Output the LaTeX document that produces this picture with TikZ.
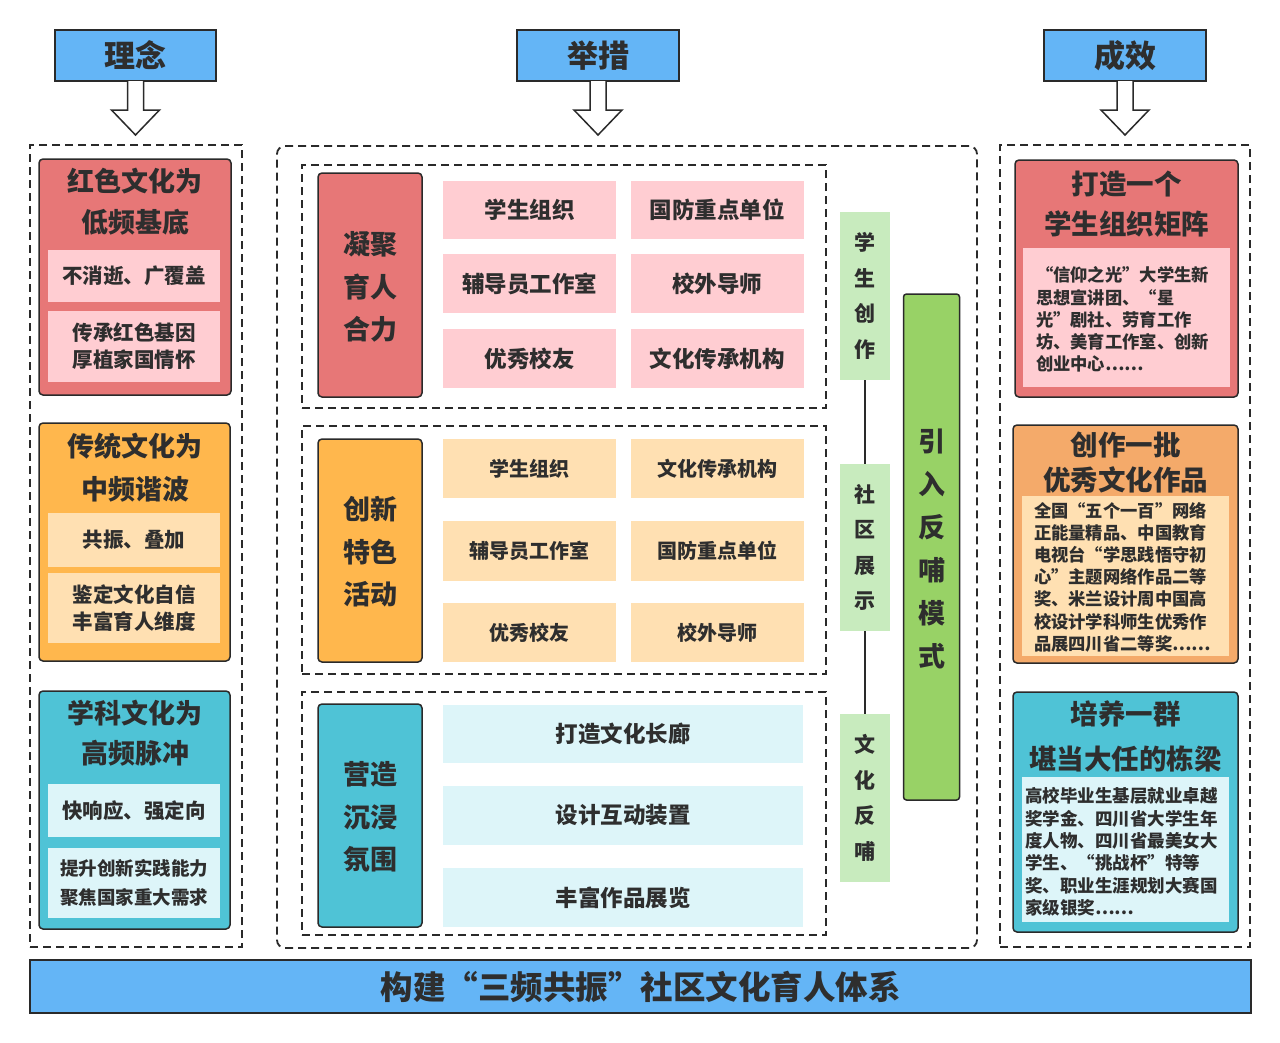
\documentclass[tikz,border=0pt]{standalone}
\usepackage{fontspec}
\setmainfont{Noto Sans CJK SC}
\usetikzlibrary{calc}
\definecolor{hblue}{HTML}{64B5F6}
\definecolor{bord}{HTML}{2A2A2A}
\definecolor{txt}{HTML}{2E2E2E}
\definecolor{redc}{HTML}{E77777}
\definecolor{pinkc}{HTML}{FFCDD2}
\definecolor{orc}{HTML}{FFB74D}
\definecolor{orr}{HTML}{F4AA6A}
\definecolor{peach}{HTML}{FFE0B2}
\definecolor{tealc}{HTML}{4FC3D6}
\definecolor{cyanl}{HTML}{DDF5F9}
\definecolor{lgreen}{HTML}{C8EBBE}
\definecolor{dgreen}{HTML}{98D266}
\tikzset{
  base/.style={inner sep=0pt, outer sep=0pt, text=txt},
  hdr/.style={base, draw=bord, line width=1.5pt, fill=hblue, font=\bfseries\fontsize{31}{36}\selectfont},
  colbox/.style={base, draw=bord, line width=1.5pt, rounded corners=4pt},
  flat/.style={base, draw=none, align=center},
  dashbox/.style={base, draw=bord, line width=1.8pt, dash pattern=on 8pt off 5pt},
  ttl/.style={base, align=center, font=\bfseries\fontsize{27}{41}\selectfont},
  subt/.style={flat, font=\bfseries\fontsize{20.5}{27}\selectfont},
  cellA/.style={flat, fill=pinkc, font=\bfseries\fontsize{22.5}{27}\selectfont},
  cellB/.style={flat, fill=peach, font=\bfseries\fontsize{20}{27}\selectfont},
  cellC/.style={flat, fill=cyanl, font=\bfseries\fontsize{22.5}{27}\selectfont},
  lbl/.style={base, align=center, font=\bfseries\fontsize{27}{42.5}\selectfont},
  vtxt/.style={flat, fill=lgreen, font=\bfseries\fontsize{21}{35.5}\selectfont},
  body/.style={base, align=left, anchor=west, font=\bfseries\fontsize{17.3}{22.2}\selectfont},
  harrow/.style={draw=bord, fill=white, line width=1.5pt, line join=miter},
  conn/.style={draw=bord, line width=1.3pt}
}
\begin{document}
\begin{tikzpicture}[x=1pt,y=-1pt]
\useasboundingbox[fill=white] (0,0) rectangle (1280,1042);

% headers
\node[hdr, minimum width=161pt, minimum height=51pt] (h1) at (135.5,55.5) {理念};
\node[hdr, minimum width=162pt, minimum height=51pt] (h2) at (598,55.5) {举措};
\node[hdr, minimum width=162pt, minimum height=51pt] (h3) at (1125,55.5) {成效};
\foreach \h in {h1,h2,h3}{
  \draw[harrow] ($(\h.south)+(-8,0)$) -- ($(\h.south)+(-8,29)$) -- ($(\h.south)+(-24,29)$)
    -- ($(\h.south)+(0,54)$) -- ($(\h.south)+(24,29)$) -- ($(\h.south)+(8,29)$) -- ($(\h.south)+(8,0)$);
}

% containers
\node[dashbox, minimum width=212pt, minimum height=802pt] (cL) at (136,546) {};
\node[dashbox, rounded corners=8pt, minimum width=700pt, minimum height=802pt] (cM) at (627,547) {};
\node[dashbox, minimum width=250pt, minimum height=802pt] (cR) at (1125,546) {};

% left column
\node[colbox, fill=redc, minimum width=192pt, minimum height=236pt] (L1) at (135,277) {};
\node[ttl] (L1t) at (135,202) {红色文化为\\低频基底};
\node[subt, fill=pinkc, minimum width=172pt, minimum height=52pt] (L1a) at (134,276) {不消逝、广覆盖};
\node[subt, fill=pinkc, minimum width=172pt, minimum height=71pt] (L1b) at (134,346.5) {传承红色基因\\厚植家国情怀};

\node[colbox, fill=orc, minimum width=191pt, minimum height=238pt] (L2) at (134.5,542) {};
\node[ttl, font=\bfseries\fontsize{27}{43}\selectfont] (L2t) at (135,468) {传统文化为\\中频谐波};
\node[subt, fill=peach, minimum width=172pt, minimum height=54pt] (L2a) at (134,540) {共振、叠加};
\node[subt, fill=peach, minimum width=172pt, minimum height=70pt] (L2b) at (134,608) {鉴定文化自信\\丰富育人维度};

\node[colbox, fill=tealc, minimum width=191pt, minimum height=238pt] (L3) at (134.5,810) {};
\node[ttl, font=\bfseries\fontsize{27}{40}\selectfont] (L3t) at (135,733.5) {学科文化为\\高频脉冲};
\node[subt, fill=cyanl, minimum width=172pt, minimum height=53pt] (L3a) at (134,810.5) {快响应、强定向};
\node[subt, fill=cyanl, minimum width=172pt, minimum height=70pt, font=\bfseries\fontsize{18.5}{29}\selectfont] (L3b) at (134,883) {提升创新实践能力\\聚焦国家重大需求};

% middle group 1
\node[dashbox, minimum width=524pt, minimum height=243pt] (G1) at (564,286.5) {};
\node[colbox, fill=redc, minimum width=104pt, minimum height=224pt] (G1l) at (370,285) {};
\node[lbl] (G1t) at (370,287) {凝聚\\育人\\合力};
\node[cellA, minimum width=173pt, minimum height=58pt] (a11) at (529.5,210) {学生组织};
\node[cellA, minimum width=173pt, minimum height=58pt] (a12) at (717,210) {国防重点单位};
\node[cellA, minimum width=173pt, minimum height=59pt] (a21) at (529.5,283.5) {辅导员工作室};
\node[cellA, minimum width=173pt, minimum height=59pt] (a22) at (717,283.5) {校外导师};
\node[cellA, minimum width=173pt, minimum height=59pt] (a31) at (529.5,358.5) {优秀校友};
\node[cellA, minimum width=173pt, minimum height=59pt] (a32) at (717,358.5) {文化传承机构};

% middle group 2
\node[dashbox, minimum width=524pt, minimum height=248pt] (G2) at (564,550) {};
\node[colbox, fill=orc, minimum width=104pt, minimum height=223pt] (G2l) at (370,550.5) {};
\node[lbl] (G2t) at (370,552) {创新\\特色\\活动};
\node[cellB, minimum width=173pt, minimum height=59pt] (b11) at (529.5,468.5) {学生组织};
\node[cellB, minimum width=173pt, minimum height=59pt] (b12) at (717,468.5) {文化传承机构};
\node[cellB, minimum width=173pt, minimum height=60pt] (b21) at (529.5,551) {辅导员工作室};
\node[cellB, minimum width=173pt, minimum height=60pt] (b22) at (717,551) {国防重点单位};
\node[cellB, minimum width=173pt, minimum height=59pt] (b31) at (529.5,632.5) {优秀校友};
\node[cellB, minimum width=173pt, minimum height=59pt] (b32) at (717,632.5) {校外导师};

% middle group 3
\node[dashbox, minimum width=524pt, minimum height=243pt] (G3) at (564,813.5) {};
\node[colbox, fill=tealc, minimum width=104pt, minimum height=223pt] (G3l) at (370,815.5) {};
\node[lbl] (G3t) at (370,817) {营造\\沉浸\\氛围};
\node[cellC, minimum width=360pt, minimum height=58pt] (c1) at (623,734) {打造文化长廊};
\node[cellC, minimum width=360pt, minimum height=59pt] (c2) at (623,815.5) {设计互动装置};
\node[cellC, minimum width=360pt, minimum height=59pt] (c3) at (623,897.5) {丰富作品展览};

% green vertical boxes
\node[vtxt, minimum width=50pt, minimum height=168pt] (s1) at (865,296) {学\\生\\创\\作};
\node[vtxt, minimum width=50pt, minimum height=167pt] (s2) at (865,547.5) {社\\区\\展\\示};
\node[vtxt, minimum width=50pt, minimum height=168pt] (s3) at (865,798) {文\\化\\反\\哺};
\draw[conn] (s1.south) -- (s2.north);
\draw[conn] (s2.south) -- (s3.north);
\node[colbox, fill=dgreen, rounded corners=3pt, minimum width=56pt, minimum height=506pt] (big) at (931.5,547) {};
\node[lbl, font=\bfseries\fontsize{27}{43}\selectfont] (bigt) at (931.5,549) {引\\入\\反\\哺\\模\\式};

% right column
\node[colbox, fill=redc, minimum width=223pt, minimum height=237pt] (R1) at (1126.5,278.5) {};
\node[ttl, font=\bfseries\fontsize{27.5}{40}\selectfont] (R1t) at (1126.5,204) {打造一个\\学生组织矩阵};
\node[flat, fill=pinkc, minimum width=207pt, minimum height=139pt] (R1s) at (1126.5,317.5) {};
\node[body] (R1b) at (1036,319.5) {“信仰之光”大学生新\\思想宣讲团、“星\\光”剧社、劳育工作\\坊、美育工作室、创新\\创业中心……};

\node[colbox, fill=orr, minimum width=225pt, minimum height=238pt] (R2) at (1125.5,544) {};
\node[ttl, font=\bfseries\fontsize{27.5}{35}\selectfont] (R2t) at (1125.5,463) {创作一批\\优秀文化作品};
\node[flat, fill=peach, minimum width=207pt, minimum height=160pt] (R2s) at (1125.5,576) {};
\node[body] (R2b) at (1034,577) {全国“五个一百”网络\\正能量精品、中国教育\\电视台“学思践悟守初\\心”主题网络作品二等\\奖、米兰设计周中国高\\校设计学科师生优秀作\\品展四川省二等奖……};

\node[colbox, fill=tealc, minimum width=225pt, minimum height=240pt] (R3) at (1125.5,812) {};
\node[ttl, font=\bfseries\fontsize{27.5}{45}\selectfont] (R3t) at (1125.5,736.5) {培养一群\\堪当大任的栋梁};
\node[flat, fill=cyanl, minimum width=207pt, minimum height=145pt] (R3s) at (1125.5,849.5) {};
\node[body, font=\bfseries\fontsize{17.5}{22.4}\selectfont] (R3b) at (1025,852) {高校毕业生基层就业卓越\\奖学金、四川省大学生年\\度人物、四川省最美女大\\学生、“挑战杯”特等\\奖、职业生涯规划大赛国\\家级银奖……};

% bottom bar
\node[hdr, minimum width=1221pt, minimum height=53pt, font=\bfseries\fontsize{32.5}{36}\selectfont] (bar) at (640.5,986.5) {构建“三频共振”社区文化育人体系};
\end{tikzpicture}
\end{document}
